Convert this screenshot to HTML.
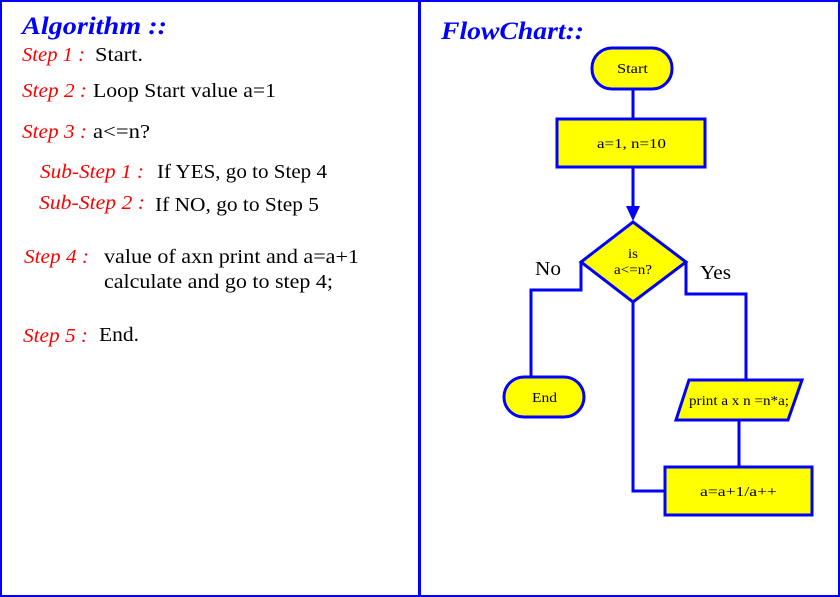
<!DOCTYPE html>
<html><head><meta charset="utf-8"><style>
html,body{margin:0;padding:0;background:#fff}
svg{display:block}
</style></head><body>
<svg width="840" height="597" viewBox="0 0 840 597" xmlns="http://www.w3.org/2000/svg" font-family="Liberation Serif, serif">
<rect x="1" y="1" width="838" height="595" fill="#fff" stroke="#0000ff" stroke-width="2"/>
<line x1="419.5" y1="0" x2="419.5" y2="597" stroke="#0000ff" stroke-width="3"/>
<g font-style="italic" font-weight="bold" fill="#0000ff" font-size="25">
<text x="22" y="34" textLength="145" lengthAdjust="spacingAndGlyphs">Algorithm ::</text>
<text x="441" y="39" textLength="143" lengthAdjust="spacingAndGlyphs">FlowChart::</text>
</g>
<g font-style="italic" fill="#ff0000" font-size="20">
<text x="22" y="61" textLength="63" lengthAdjust="spacingAndGlyphs">Step 1 :</text>
<text x="22" y="97" textLength="65" lengthAdjust="spacingAndGlyphs">Step 2 :</text>
<text x="22" y="138" textLength="65" lengthAdjust="spacingAndGlyphs">Step 3 :</text>
<text x="40" y="178" textLength="104" lengthAdjust="spacingAndGlyphs">Sub-Step 1 :</text>
<text x="39" y="209" textLength="106" lengthAdjust="spacingAndGlyphs">Sub-Step 2 :</text>
<text x="24" y="263" textLength="65" lengthAdjust="spacingAndGlyphs">Step 4 :</text>
<text x="23" y="342" textLength="65" lengthAdjust="spacingAndGlyphs">Step 5 :</text>
</g>
<g fill="#000" font-size="20">
<text x="95" y="61" textLength="48" lengthAdjust="spacingAndGlyphs">Start.</text>
<text x="93" y="97" textLength="183" lengthAdjust="spacingAndGlyphs">Loop Start value a=1</text>
<text x="93" y="138" textLength="57" lengthAdjust="spacingAndGlyphs">a&lt;=n?</text>
<text x="157" y="178" textLength="170" lengthAdjust="spacingAndGlyphs">If YES, go to Step 4</text>
<text x="155" y="211" textLength="164" lengthAdjust="spacingAndGlyphs">If NO, go to Step 5</text>
<text x="104" y="263" textLength="255" lengthAdjust="spacingAndGlyphs">value of axn print and a=a+1</text>
<text x="104" y="288" textLength="229" lengthAdjust="spacingAndGlyphs">calculate and go to step 4;</text>
<text x="99" y="341" textLength="40" lengthAdjust="spacingAndGlyphs">End.</text>
</g>
<g stroke="#0000ff" stroke-width="3" fill="none">
<line x1="633" y1="89" x2="633" y2="119"/>
<line x1="633" y1="167" x2="633" y2="212"/>
<polyline points="581,262 581,290 531,290 531,377"/>
<polyline points="686,262 686,294 746,294 746,380"/>
<line x1="739" y1="420" x2="739" y2="467"/>
<polyline points="633,302 633,491 665,491"/>
</g>
<polygon points="626,206 640,206 633,221" fill="#0000ff"/>
<g stroke="#0000ff" stroke-width="3" fill="#ffff00">
<rect x="592" y="48" width="80" height="41" rx="20"/>
<rect x="557" y="119" width="148" height="48"/>
<polygon points="633,222 686,262 633,302 581,262"/>
<rect x="504" y="377" width="80" height="40" rx="20"/>
<polygon points="689,380 802,380 788,420 676,420"/>
<rect x="665" y="467" width="147" height="48"/>
</g>
<g fill="#000" font-size="14">
<text x="617" y="73" textLength="31" lengthAdjust="spacingAndGlyphs">Start</text>
<text x="597" y="148" textLength="69" lengthAdjust="spacingAndGlyphs">a=1, n=10</text>
<text x="628" y="258" textLength="10" lengthAdjust="spacingAndGlyphs">is</text>
<text x="614" y="274" textLength="38" lengthAdjust="spacingAndGlyphs">a&lt;=n?</text>
<text x="532" y="402" textLength="25" lengthAdjust="spacingAndGlyphs">End</text>
<text x="689" y="405" textLength="100" lengthAdjust="spacingAndGlyphs">print a x n =n*a;</text>
<text x="700" y="496" textLength="77" lengthAdjust="spacingAndGlyphs">a=a+1/a++</text>
</g>
<g fill="#000" font-size="20">
<text x="535" y="275" textLength="26" lengthAdjust="spacingAndGlyphs">No</text>
<text x="700" y="279" textLength="31" lengthAdjust="spacingAndGlyphs">Yes</text>
</g>
</svg>
</body></html>
